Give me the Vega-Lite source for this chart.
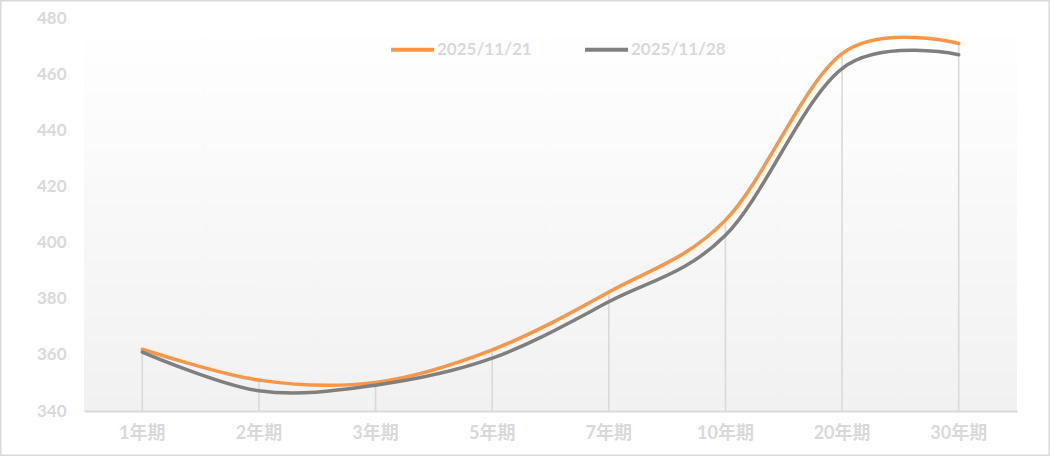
{
  "$schema": "https://vega.github.io/schema/vega-lite/v6.json",
  "width": 1050,
  "height": 456,
  "padding": 0,
  "autosize": {"type": "none"},
  "background": "#ffffff",
  "config": {
    "view": {"stroke": "#d9d9d9", "strokeWidth": 3},
    "font": "Lato, 'Noto Sans CJK SC', sans-serif"
  },
  "data": {
    "values": [
      {"tenor": "1年期", "series": "2025/11/21", "value": 362.0},
      {"tenor": "2年期", "series": "2025/11/21", "value": 351.0},
      {"tenor": "3年期", "series": "2025/11/21", "value": 350.2},
      {"tenor": "5年期", "series": "2025/11/21", "value": 361.8},
      {"tenor": "7年期", "series": "2025/11/21", "value": 382.4},
      {"tenor": "10年期", "series": "2025/11/21", "value": 408.0},
      {"tenor": "20年期", "series": "2025/11/21", "value": 467.3},
      {"tenor": "30年期", "series": "2025/11/21", "value": 470.9},
      {"tenor": "1年期", "series": "2025/11/28", "value": 361.0},
      {"tenor": "2年期", "series": "2025/11/28", "value": 347.2},
      {"tenor": "3年期", "series": "2025/11/28", "value": 349.2},
      {"tenor": "5年期", "series": "2025/11/28", "value": 358.8},
      {"tenor": "7年期", "series": "2025/11/28", "value": 378.9},
      {"tenor": "10年期", "series": "2025/11/28", "value": 402.6},
      {"tenor": "20年期", "series": "2025/11/28", "value": 462.0},
      {"tenor": "30年期", "series": "2025/11/28", "value": 466.9}
    ]
  },
  "encoding": {
    "x": {
      "field": "tenor",
      "type": "nominal",
      "sort": null,
      "scale": {"type": "band", "range": [84, 1017], "paddingInner": 0, "paddingOuter": 0},
      "axis": {
        "title": null,
        "orient": "bottom",
        "offset": -45,
        "labelAngle": 0,
        "labelColor": "#d9d9d9",
        "labelFontSize": 18,
        "labelFontWeight": "bold",
        "labelPadding": 13,
        "ticks": false,
        "grid": false,
        "domainColor": "#d9d9d9",
        "domainWidth": 2
      }
    }
  },
  "layer": [
    {
      "mark": {
        "type": "rect",
        "fill": {
          "gradient": "linear",
          "x1": 0, "y1": 0, "x2": 0, "y2": 1,
          "stops": [
            {"offset": 0, "color": "#ffffff"},
            {"offset": 0.15, "color": "#fdfdfd"},
            {"offset": 1, "color": "#f1f1f1"}
          ]
        }
      },
      "encoding": {
        "y": {
          "datum": 340,
          "type": "quantitative",
          "scale": {"domain": [340, 480], "range": [411, 18], "nice": false, "zero": false},
          "axis": {
            "title": null,
            "orient": "left",
            "offset": -70,
            "values": [340, 360, 380, 400, 420, 440, 460, 480],
            "labelColor": "#d9d9d9",
            "labelFontSize": 17,
            "labelFontWeight": "bold",
            "labelPadding": 4,
            "ticks": false,
            "grid": false,
            "domain": false
          }
        },
        "y2": {"datum": 480}
      }
    },
    {
      "mark": {"type": "rule", "color": "#d9d9d9", "strokeWidth": 1.6},
      "encoding": {
        "x": {"field": "tenor", "type": "nominal", "sort": null, "bandPosition": 0.5},
        "y": {"aggregate": "max", "field": "value", "type": "quantitative"},
        "y2": {"datum": 340}
      }
    },
    {
      "mark": {"type": "line", "interpolate": "cardinal", "strokeWidth": 3.5, "strokeCap": "round"},
      "encoding": {
        "x": {"field": "tenor", "type": "nominal", "sort": null, "bandPosition": 0.5},
        "y": {"field": "value", "type": "quantitative"},
        "color": {
          "field": "series",
          "type": "nominal",
          "scale": {"domain": ["2025/11/21", "2025/11/28"], "range": ["#f79646", "#7f7f7f"]},
          "legend": {
            "title": null,
            "orient": "none",
            "legendX": 389,
            "legendY": 26,
            "direction": "horizontal",
            "padding": 0,
            "symbolType": "stroke",
            "symbolSize": 1849,
            "symbolStrokeWidth": 4,
            "labelColor": "#d9d9d9",
            "labelFontSize": 17,
            "labelFontWeight": "bold",
            "labelOffset": 1,
            "columnPadding": 45
          }
        }
      }
    }
  ]
}
